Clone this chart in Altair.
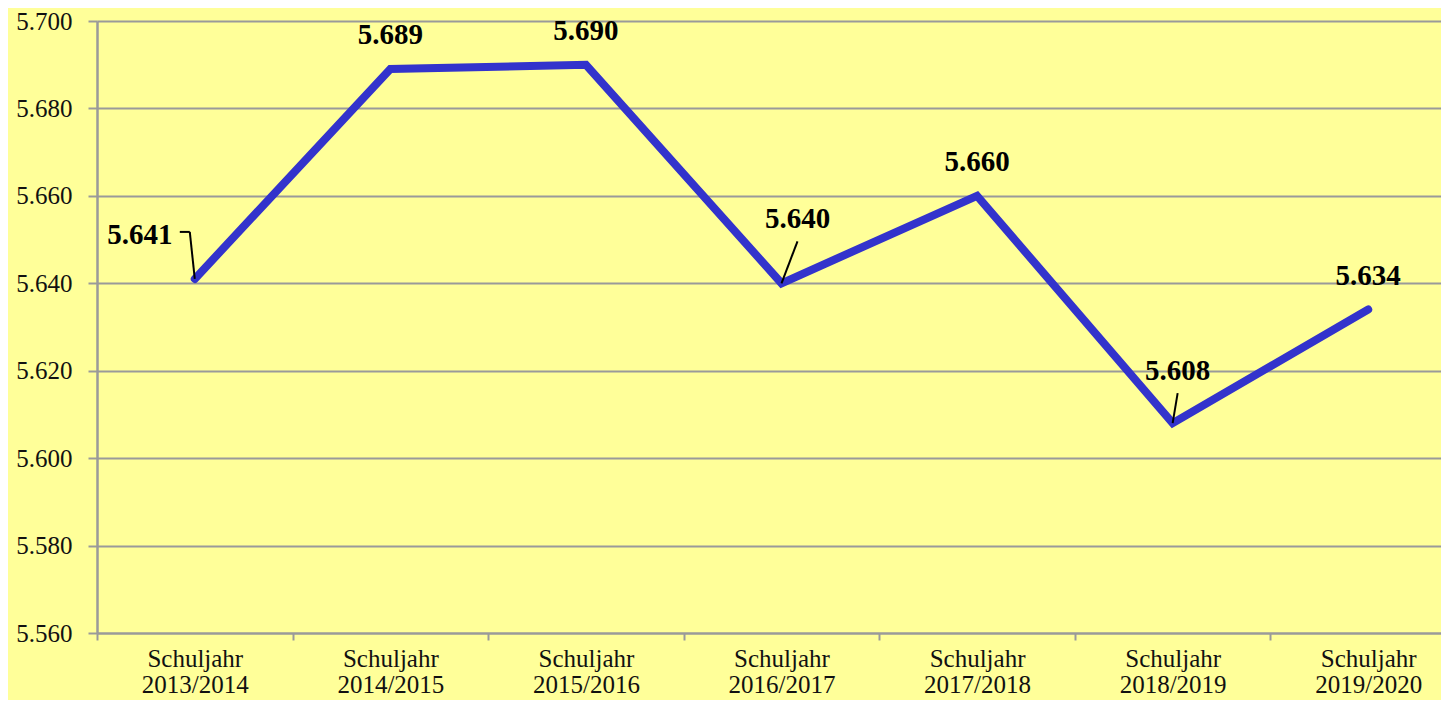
import altair as alt
import pandas as pd

years = ["2013/2014", "2014/2015", "2015/2016", "2016/2017", "2017/2018", "2018/2019", "2019/2020"]
values = [5.641, 5.689, 5.690, 5.640, 5.660, 5.608, 5.634]
y_ticks = [5.56, 5.58, 5.60, 5.62, 5.64, 5.66, 5.68, 5.70]

cats = ["Schuljahr " + y for y in years]
df = pd.DataFrame({"cat": cats, "value": values, "idx": list(range(len(cats)))})

SERIF = "Liberation Serif"
GRID = "#9a9a9a"

x_enc = alt.X(
    "cat:N", sort=cats, title=None,
    scale=alt.Scale(type="band", range=[0, 1369], paddingInner=0, paddingOuter=0),
    axis=alt.Axis(
        labelAngle=0, tickBand="extent", ticks=True, tickSize=7, tickColor=GRID, tickWidth=2,
        domainColor=GRID, domainWidth=2, labelFont=SERIF, labelFontSize=25, labelColor="#111",
        labelPadding=6, labelLineHeight=26, labelExpr="split(datum.label, ' ')", grid=False,
    ),
)
y_enc = alt.Y(
    "value:Q", title=None,
    scale=alt.Scale(domain=[5.56, 5.70], nice=False, zero=False),
    axis=alt.Axis(
        values=y_ticks, format=".3f", grid=True, gridColor=GRID, gridWidth=2,
        domainColor=GRID, domainWidth=2.5, tickColor=GRID, tickWidth=2, tickSize=9,
        labelFont=SERIF, labelFontSize=25, labelColor="#111", labelPadding=16,
    ),
)

base = alt.Chart(df)

line = base.mark_line(color="#3333CC", strokeWidth=8, strokeCap="round", strokeJoin="miter").encode(x=x_enc, y=y_enc)

txt = dict(font=SERIF, fontSize=29, fontWeight="bold", color="#000", baseline="middle", align="center")

lab_default = base.transform_filter("indexof([1,2,4,6], datum.idx) >= 0").mark_text(dy=-34, **txt).encode(
    x=alt.X("cat:N", sort=cats), y="value:Q", text=alt.Text("value:Q", format=".3f"))
lab0 = base.transform_filter("datum.idx == 0").mark_text(dx=-55, dy=-44, **txt).encode(
    x=alt.X("cat:N", sort=cats), y="value:Q", text=alt.Text("value:Q", format=".3f"))
lab3 = base.transform_filter("datum.idx == 3").mark_text(dx=16, dy=-64, **txt).encode(
    x=alt.X("cat:N", sort=cats), y="value:Q", text=alt.Text("value:Q", format=".3f"))
lab5 = base.transform_filter("datum.idx == 5").mark_text(dx=5, dy=-52, **txt).encode(
    x=alt.X("cat:N", sort=cats), y="value:Q", text=alt.Text("value:Q", format=".3f"))

def leader(i, xo, yo, x2o, y2o):
    return base.transform_filter(f"datum.idx == {i}").mark_rule(
        color="#000", strokeWidth=2, xOffset=xo, yOffset=yo, x2Offset=x2o, y2Offset=y2o
    ).encode(x=alt.X("cat:N", sort=cats), x2="cat", y="value:Q", y2="value")

leaders = [
    leader(0, 0, 0, -5, -47),
    leader(0, -5, -47, -15, -47),
    leader(3, 0, 0, 16, -42),
    leader(5, 0, 0, 5, -30),
]

chart = alt.layer(line, *leaders, lab_default, lab0, lab3, lab5).properties(
    width=1344, height=612,
    autosize=alt.AutoSizeParams(type="none"),
    padding={"left": 89, "top": 13, "right": 0, "bottom": 67},
    background="#FFFF99",
).configure_view(strokeOpacity=0)

chart.save("out.html", embed_options={"renderer": "svg", "actions": False})
